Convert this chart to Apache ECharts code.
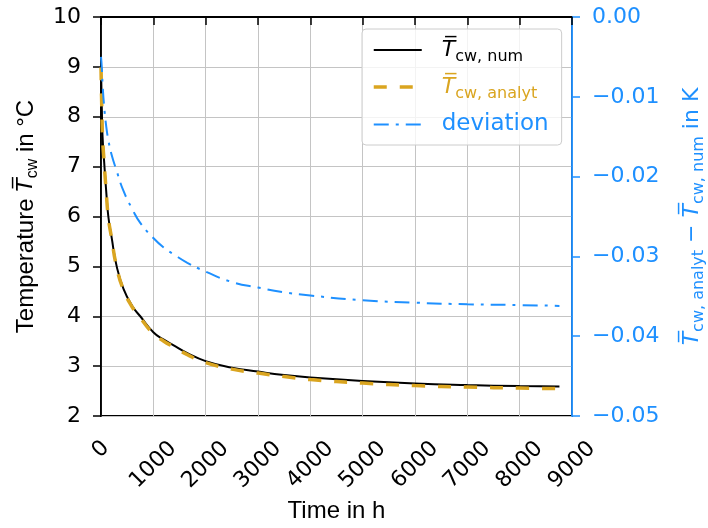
<!DOCTYPE html>
<html>
<head>
<meta charset="utf-8">
<script src="https://cdn.jsdelivr.net/npm/echarts@6/dist/echarts.min.js"></script>
<style>
  html, body { margin: 0; padding: 0; background: #fff; }
  #chart { width: 708px; height: 528px; }
</style>
</head>
<body>
<div id="chart"></div>
<script>
// time in h
const time = [0, 15, 30, 60, 100, 140, 200, 300, 430, 600, 750, 1000, 1200, 1380, 1650, 2000, 2500, 3000, 3500, 4000, 5000, 6000, 7000, 8000, 8760];
// mean cooling water temperature in °C
const tempNum = [9.0, 8.2, 7.6, 7.1, 6.5, 6.0, 5.6, 5.0, 4.55, 4.2, 4.0, 3.68, 3.53, 3.42, 3.26, 3.1, 2.97, 2.89, 2.82, 2.77, 2.7, 2.65, 2.62, 2.6, 2.59];
const tempAnalyt = [8.99, 8.19, 7.59, 7.09, 6.49, 5.98, 5.58, 4.98, 4.53, 4.18, 3.97, 3.65, 3.5, 3.39, 3.23, 3.07, 2.94, 2.86, 2.79, 2.73, 2.66, 2.61, 2.58, 2.56, 2.55];
// analyt - num in K
const deviation = [-0.005, -0.0063, -0.0084, -0.0112, -0.0137, -0.0154, -0.0172, -0.0193, -0.0218, -0.0241, -0.0258, -0.0277, -0.0289, -0.0297, -0.0308, -0.0319, -0.0332, -0.0339, -0.0345, -0.0349, -0.0355, -0.0358, -0.036, -0.0361, -0.0362];

const BLACK = "#000000";
const ORANGE = "#DAA520";
const BLUE = "#1E90FF";
const TBAR = "T\u0305";
const TICK_FONT = "DejaVu Sans";

const chart = echarts.init(document.getElementById("chart"));

function sub(color) {
  return { fontFamily: "DejaVu Sans", fontSize: 16, lineHeight: 20, verticalAlign: "bottom", color };
}
function big(color) {
  return { fontFamily: "DejaVu Sans", fontStyle: "italic", fontSize: 22, lineHeight: 30, color };
}

const legendText = {
  num: `{tk|${TBAR}}{sk|cw, num}`,
  analyt: `{to|${TBAR}}{so|cw, analyt}`,
  deviation: "{dv|deviation}",
};

chart.setOption({
  animation: false,
  grid: { left: 101, right: 136, top: 17, bottom: 112, show: true, borderColor: BLACK, borderWidth: 1.8, outerBoundsMode: "none" },
  legend: {
    left: 362,
    top: 29,
    orient: "vertical",
    itemWidth: 48,
    itemHeight: 14,
    itemGap: 11,
    padding: [10, 13, 9, 10],
    backgroundColor: "rgba(255,255,255,0.8)",
    borderColor: "#cccccc",
    borderWidth: 1,
    borderRadius: 4,
    itemStyle: { opacity: 0 },
    data: [
      { name: "num", lineStyle: { width: 2 } },
      { name: "analyt", lineStyle: { width: 3.5 } },
      { name: "deviation", lineStyle: { width: 2 } },
    ],
    formatter: (name) => legendText[name],
    textStyle: {
      padding: [0, 0, 0, 15],
      rich: {
        tk: big(BLACK), sk: sub(BLACK),
        to: big(ORANGE), so: sub(ORANGE),
        dv: { fontFamily: "DejaVu Sans", fontSize: 23, lineHeight: 30, color: BLUE },
      },
    },
  },
  xAxis: {
    type: "value",
    min: 0,
    max: 9000,
    interval: 1000,
    name: "Time in h",
    nameLocation: "middle",
    nameGap: 83,
    nameTextStyle: { fontFamily: "Liberation Sans", fontSize: 24, color: BLACK },
    axisLine: { lineStyle: { color: BLACK, width: 1.8 } },
    axisTick: { length: 8, lineStyle: { color: BLACK, width: 1.5 } },
    axisLabel: {
      rotate: 45,
      align: "center",
      verticalAlign: "middle",
      margin: 49,
      fontFamily: TICK_FONT,
      fontSize: 22,
      color: BLACK,
      formatter: (v) => (v === 0 ? "{z|0}" : String(v)),
      rich: { z: { fontFamily: TICK_FONT, fontSize: 22, color: BLACK, padding: [0, 0, 22, 22] } },
    },
    splitLine: { show: true, lineStyle: { color: "#c4c4c4", width: 1 } },
  },
  yAxis: [
    {
      type: "value",
      min: 2,
      max: 10,
      interval: 1,
      name: `{a|Temperature }{t|${TBAR}}{s|cw}{a| in °C}`,
      nameLocation: "middle",
      nameRotate: 90,
      nameGap: 60,
      nameTextStyle: {
        color: BLACK,
        rich: {
          a: { fontFamily: "Liberation Sans", fontSize: 24, lineHeight: 30, color: BLACK },
          t: big(BLACK),
          s: { fontFamily: "Liberation Sans", fontSize: 16, lineHeight: 20, verticalAlign: "bottom", color: BLACK },
        },
      },
      axisLine: { show: true, lineStyle: { color: BLACK, width: 1.8 } },
      axisTick: { show: true, length: 8, lineStyle: { color: BLACK, width: 1.5 } },
      axisLabel: { margin: 20, fontFamily: TICK_FONT, fontSize: 22, color: BLACK },
      splitLine: { show: true, lineStyle: { color: "#c4c4c4", width: 1 } },
    },
    {
      type: "value",
      position: "right",
      min: -0.05,
      max: 0,
      interval: 0.01,
      name: `{t|${TBAR}}{s|cw, analyt}{a| \u2212 }{t|${TBAR}}{s|cw, num}{a| in K}`,
      nameLocation: "middle",
      nameRotate: 90,
      nameGap: 105,
      nameTextStyle: {
        color: BLUE,
        rich: {
          a: { fontFamily: "DejaVu Sans", fontSize: 22, lineHeight: 30, color: BLUE },
          t: big(BLUE),
          s: sub(BLUE),
        },
      },
      axisLine: { show: true, lineStyle: { color: BLUE, width: 1.8 } },
      axisTick: { show: true, length: 8, lineStyle: { color: BLUE, width: 1.5 } },
      axisLabel: {
        margin: 20,
        fontFamily: TICK_FONT,
        fontSize: 22,
        color: BLUE,
        formatter: (v) => (v < 0 ? "\u2212" : "") + Math.abs(v).toFixed(2),
      },
      splitLine: { show: false },
    },
  ],
  series: [
    {
      name: "num",
      type: "line",
      yAxisIndex: 0,
      symbol: "none",
      smooth: 0.5,
      data: time.map((t, i) => [t, tempNum[i]]),
      lineStyle: { color: BLACK, width: 2 },
      itemStyle: { color: BLACK },
      z: 3,
    },
    {
      name: "analyt",
      type: "line",
      yAxisIndex: 0,
      symbol: "none",
      smooth: 0.5,
      data: time.map((t, i) => [t, tempAnalyt[i]]),
      lineStyle: { color: ORANGE, width: 3.5, type: [13, 13] },
      itemStyle: { color: ORANGE },
      z: 4,
    },
    {
      name: "deviation",
      type: "line",
      yAxisIndex: 1,
      symbol: "none",
      smooth: 0.5,
      data: time.map((t, i) => [t, deviation[i]]),
      lineStyle: { color: BLUE, width: 2, type: [15, 7, 3, 7] },
      itemStyle: { color: BLUE },
      z: 5,
    },
  ],
});
</script>
</body>
</html>
